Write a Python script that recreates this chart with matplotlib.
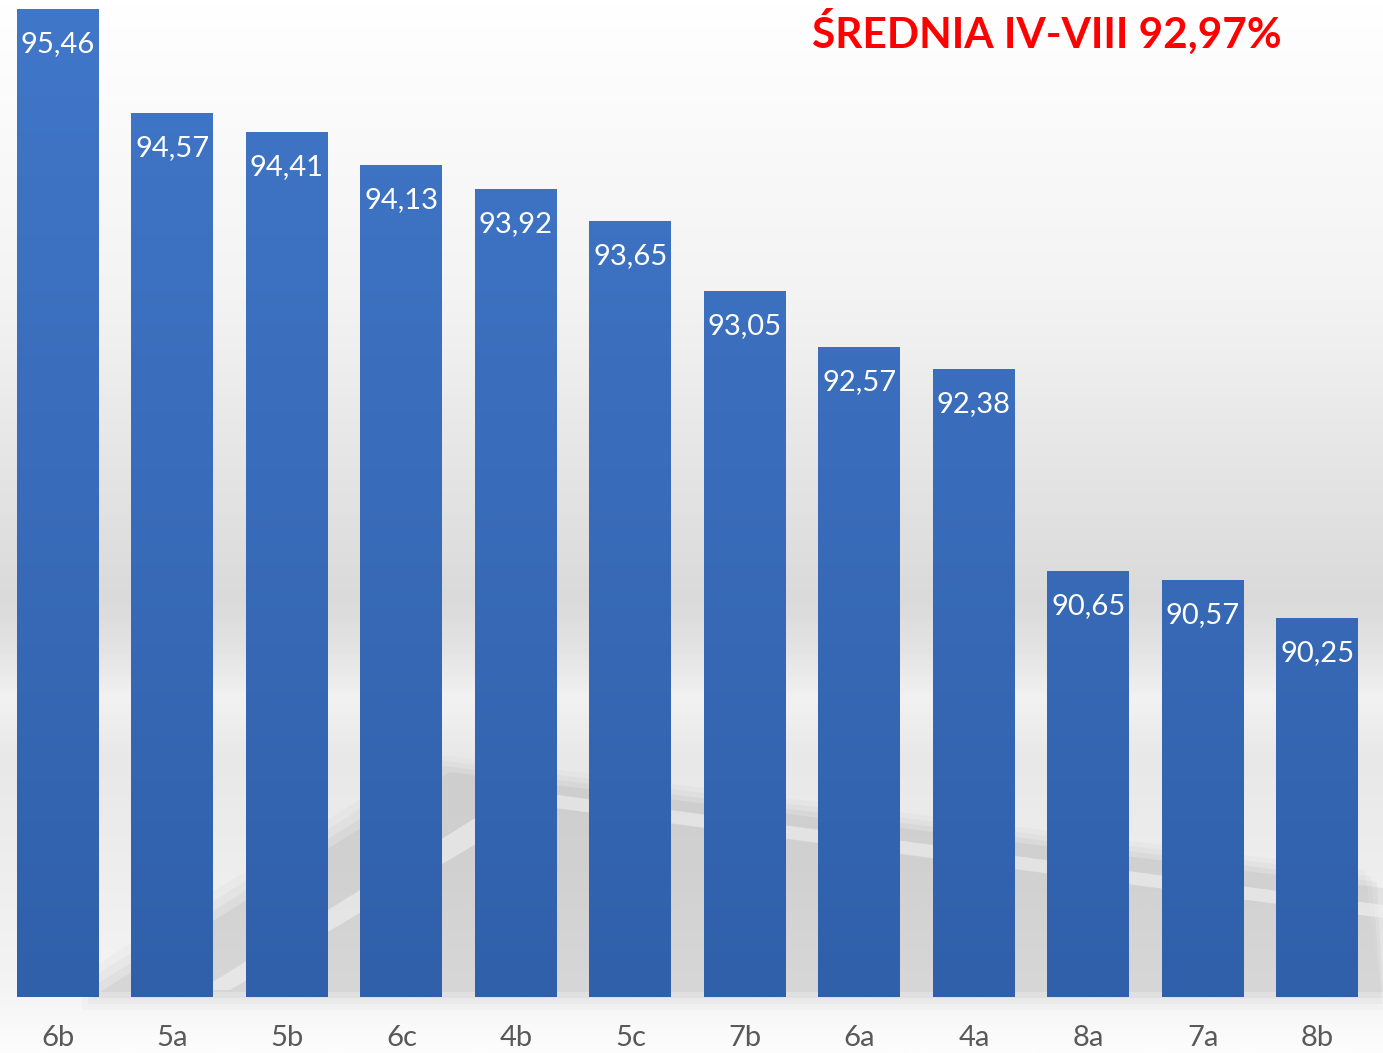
import matplotlib.pyplot as plt
import numpy as np
from matplotlib.colors import LinearSegmentedColormap
from matplotlib.patches import Polygon

classes = ['6b', '5a', '5b', '6c', '4b', '5c', '7b', '6a', '4a', '8a', '7a', '8b']
scores = [95.46, 94.57, 94.41, 94.13, 93.92, 93.65, 93.05, 92.57, 92.38, 90.65, 90.57, 90.25]
title_text = 'ŚREDNIA IV-VIII 92,97%'

plt.rcParams['font.family'] = ['Lato', 'DejaVu Sans']

W, H = 1383, 1053
fig = plt.figure(figsize=(W / 100, H / 100), dpi=100)

# background: white -> light gray -> white, in pixel coords
bg = fig.add_axes([0, 0, 1, 1], zorder=0)
bg_cmap = LinearSegmentedColormap.from_list(
    'bg', [(0.0, '#ffffff'), (0.285, '#f3f3f3'), (0.57, '#dadada'),
           (0.62, '#e4e4e4'), (0.665, '#f2f2f2'), (0.72, '#e8e8e8'),
           (0.94, '#f4f4f4'), (1.0, '#fdfdfd')])
grad = np.linspace(0, 1, 512).reshape(-1, 1)
bg.imshow(grad, cmap=bg_cmap, aspect='auto', extent=[0, W, H, 0])
bg.set_xlim(0, W)
bg.set_ylim(H, 0)
bg.axis('off')

# soft floor shadow behind the bars
shadow = [(100, 992), (450, 772), (1383, 888), (1383, 985), (1383, 992)]
for k, a in enumerate([0.05, 0.07, 0.10, 0.14]):
    grow = (3 - k) * 6
    pts = [(px - grow, py - grow) for px, py in shadow[:3]] + [(W, 992 + grow), (100 - grow, 992 + grow)]
    bg.add_patch(Polygon(pts, closed=True, facecolor='#9a9a9a', edgecolor='none', alpha=a))
bg.add_patch(Polygon([(200, 990), (520, 790), (W, 905), (W, 918), (540, 806), (230, 990)],
                     closed=True, facecolor='#f4f4f4', edgecolor='none', alpha=0.55))

ax = fig.add_axes([0.0005, 1 - 997 / H, 1374 / W, 997 / H], zorder=1)
ax.patch.set_alpha(0)
ymin, ymax = 87.0, 95.54
x = np.arange(len(classes))
bars = ax.bar(x, scores, width=0.716, bottom=0, color='none', edgecolor='none')

bar_cmap = LinearSegmentedColormap.from_list('bar', ['#3060aa', '#4177c9'])
for b in bars:
    bx, bw = b.get_x(), b.get_width()
    im = ax.imshow(grad, cmap=bar_cmap, origin='lower', aspect='auto',
                   extent=[bx, bx + bw, ymin, ymax], zorder=2)
    im.set_clip_path(b)

for xi, v in zip(x, scores):
    ax.text(xi, v - 0.19, f'{v:.2f}'.replace('.', ','), ha='center', va='top',
            color='white', fontsize=21, zorder=3)

ax.set_xlim(-0.5, len(classes) - 0.5)
ax.set_ylim(ymin, ymax)
ax.set_xticks(x)
ax.set_xticklabels(classes, fontsize=21, color='#595959')
ax.tick_params(axis='x', length=0, pad=20)
ax.set_yticks([])
for s in ax.spines.values():
    s.set_visible(False)

fig.text(1047 / W, 1 - 32 / H, title_text, ha='center', va='center',
         color='#ff0000', fontsize=30.5, fontweight='bold')

fig.savefig('out.png', dpi=100)
